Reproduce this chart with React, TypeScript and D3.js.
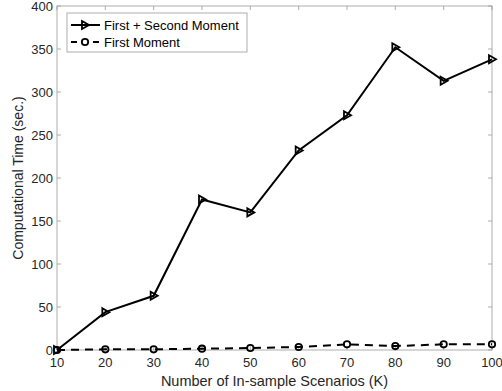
import React from "react";
import * as d3 from "d3";

const scenarios = [10, 20, 30, 40, 50, 60, 70, 80, 90, 100];
const firstSecond = [0, 44, 63, 175, 160, 232, 273, 352, 313, 338];
const firstOnly = [0, 0.8, 0.8, 1.5, 2.3, 3.5, 6.6, 4.6, 6.6, 6.6];
const yTicks = [0, 50, 100, 150, 200, 250, 300, 350, 400];

const W = 502;
const H = 391;
const margin = { top: 6, right: 10, bottom: 41, left: 57 };

export default function App() {
  const x = d3.scaleLinear().domain([10, 100]).range([margin.left, W - margin.right]);
  const y = d3.scaleLinear().domain([0, 400]).range([H - margin.bottom, margin.top]);
  const line = d3.line<number>().x((d, i) => x(scenarios[i])).y((d) => y(d));

  const axisColor = "#262626";
  const font = "Helvetica, 'Liberation Sans', Arial, sans-serif";
  const x0 = margin.left, x1 = W - margin.right, y0 = H - margin.bottom, y1 = margin.top;

  // right-pointing triangle marker
  const tri = (cx: number, cy: number) => `M${cx - 3},${cy - 4}L${cx + 4},${cy}L${cx - 3},${cy + 4}Z`;

  return (
    <svg width={W} height={H} style={{ position: "absolute", left: 0, top: 0, background: "#fff" }} fontFamily={font}>
      {/* box */}
      <rect x={x0} y={y1} width={x1 - x0} height={y0 - y1} fill="#fff" stroke="#999" strokeWidth={0.8} />
      {/* ticks */}
      {scenarios.map((t) => (
        <g key={"x" + t}>
          <line x1={x(t)} x2={x(t)} y1={y0} y2={y0 - 4} stroke="#999" strokeWidth={0.8} />
          <line x1={x(t)} x2={x(t)} y1={y1} y2={y1 + 4} stroke="#999" strokeWidth={0.8} />
          <text x={x(t)} y={y0 + 17} textAnchor="middle" fontSize={13} fill={axisColor}>{t}</text>
        </g>
      ))}
      {yTicks.map((t) => (
        <g key={"y" + t}>
          <line x1={x0} x2={x0 + 4} y1={y(t)} y2={y(t)} stroke="#999" strokeWidth={0.8} />
          <line x1={x1} x2={x1 - 4} y1={y(t)} y2={y(t)} stroke="#999" strokeWidth={0.8} />
          <text x={x0 - 4} y={y(t) + 4.5} textAnchor="end" fontSize={13} fill={axisColor}>{t}</text>
        </g>
      ))}
      <text x={(x0 + x1) / 2} y={H - 5} textAnchor="middle" fontSize={14.5} fill={axisColor}>
        Number of In-sample Scenarios (K)
      </text>
      <text transform={`translate(23,${(y0 + y1) / 2}) rotate(-90)`} textAnchor="middle" fontSize={14} fill={axisColor}>
        Computational Time (sec.)
      </text>

      {/* series */}
      <path d={line(firstSecond) || ""} fill="none" stroke="#000" strokeWidth={2} />
      {firstSecond.map((v, i) => (
        <path key={"t" + i} d={tri(x(scenarios[i]), y(v))} fill="none" stroke="#000" strokeWidth={1.8} />
      ))}
      <path d={line(firstOnly) || ""} fill="none" stroke="#000" strokeWidth={2} strokeDasharray="8,6" />
      {firstOnly.map((v, i) => (
        <circle key={"c" + i} cx={x(scenarios[i])} cy={y(v)} r={3.2} fill="none" stroke="#000" strokeWidth={1.8} />
      ))}

      {/* legend */}
      <g>
        <rect x={67} y={13} width={180} height={39} fill="#fff" stroke="#999" strokeWidth={0.8} />
        <line x1={71} x2={100} y1={25} y2={25} stroke="#000" strokeWidth={2} />
        <path d={tri(85, 25)} fill="none" stroke="#000" strokeWidth={1.8} />
        <text x={104} y={29.5} fontSize={13} fill="#000">First + Second Moment</text>
        <line x1={71} x2={100} y1={42} y2={42} stroke="#000" strokeWidth={2} strokeDasharray="6,5" />
        <circle cx={85} cy={42} r={3.2} fill="#fff" stroke="#000" strokeWidth={1.8} />
        <text x={104} y={46.5} fontSize={13} fill="#000">First Moment</text>
      </g>
    </svg>
  );
}
